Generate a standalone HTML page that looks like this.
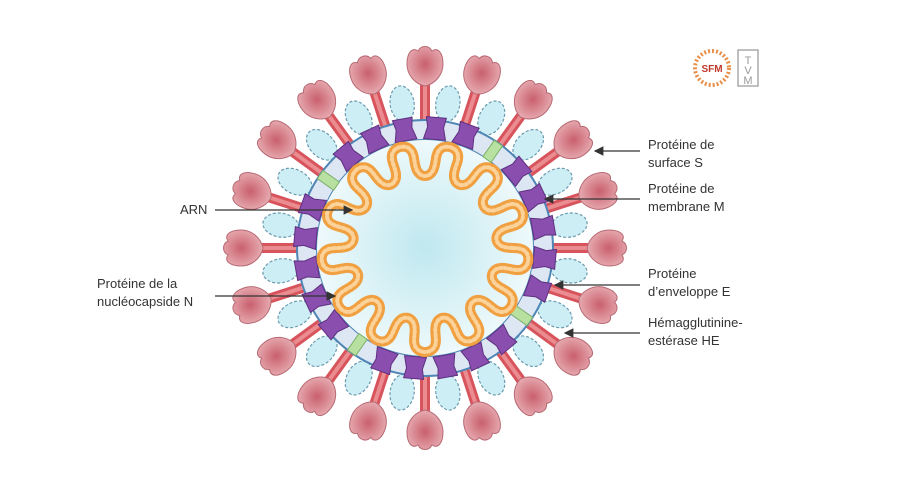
<!DOCTYPE html>
<html><head><meta charset="utf-8"><style>
body{margin:0;background:#fff;width:900px;height:480px;overflow:hidden;font-family:"Liberation Sans",sans-serif}
svg{position:absolute;left:0;top:0}
</style></head><body>
<svg id="s" width="900" height="480" viewBox="0 0 900 480">
<defs>
<radialGradient id="core"><stop offset="0" stop-color="#bfe8ef"/><stop offset="1" stop-color="#eef9fb"/></radialGradient>
<radialGradient id="head" cx="0.5" cy="0.45" r="0.6"><stop offset="0" stop-color="#c9606e"/><stop offset="1" stop-color="#eab3b8"/></radialGradient>
<marker id="ar" markerWidth="8" markerHeight="8" refX="7" refY="4" orient="auto"><path d="M0,0 L8,4 L0,8 z" fill="#333"/></marker>
</defs>
<g id="v"></g>
<g font-size="13" fill="#333">
<text x="648" y="149">Protéine de</text><text x="648" y="167">surface S</text>
<text x="648" y="193">Protéine de</text><text x="648" y="211">membrane M</text>
<text x="648" y="278">Protéine</text><text x="648" y="296">d’enveloppe E</text>
<text x="648" y="327">Hémagglutinine-</text><text x="648" y="345">estérase HE</text>
<text x="180" y="214">ARN</text>
<text x="97" y="288">Protéine de la</text><text x="97" y="306">nucléocapside N</text>
</g>
<g stroke="#333" stroke-width="1.2" marker-end="url(#ar)">
<line x1="640" y1="151" x2="595" y2="151"/>
<line x1="640" y1="199" x2="545" y2="199"/>
<line x1="640" y1="285" x2="555" y2="285"/>
<line x1="640" y1="333" x2="565" y2="333"/>
<line x1="215" y1="210" x2="352" y2="210"/>
<line x1="215" y1="296" x2="335" y2="296"/>
</g>
<g transform="translate(712,68)">
<circle r="17" fill="none" stroke="#e8904a" stroke-width="4" stroke-dasharray="2 2"/>
<circle r="13" fill="#fff"/>
<text x="0" y="4" font-size="10" font-weight="bold" text-anchor="middle" fill="#c0392b">SFM</text>
</g>
<rect x="738" y="50" width="20" height="36" fill="none" stroke="#aaa" stroke-width="1.5"/>
<text x="748" y="64" font-size="11" text-anchor="middle" fill="#999">T</text>
<text x="748" y="74" font-size="11" text-anchor="middle" fill="#999">V</text>
<text x="748" y="84" font-size="11" text-anchor="middle" fill="#999">M</text>
</svg>
<script>
const g=document.getElementById('v'),cx=425,cy=248;
let h='';
const N=20;
for(let i=0;i<N;i++){const a=(i+0.5)*360/N-90;
h+=`<g transform="translate(${cx},${cy}) rotate(${a+90})"><ellipse cx="0" cy="-146" rx="12" ry="18" fill="#cdeef5" stroke="#6a9aae" stroke-width="1.2" stroke-dasharray="3 2"/></g>`;}
for(let i=0;i<N;i++){const a=i*360/N-90;
h+=`<g transform="translate(${cx},${cy}) rotate(${a+90})">
<rect x="-5" y="-166" width="10" height="44" fill="#d8545c"/><rect x="-2" y="-166" width="4" height="44" fill="#eb8c90"/>
<path d="M0,-162 C-10,-164 -18,-173 -18,-184 C-18,-195 -13,-201 -7,-197 C-4,-203 4,-203 7,-197 C13,-201 18,-195 18,-184 C18,-173 10,-164 0,-162 Z" fill="url(#head)" stroke="#b86a74" stroke-width="1"/></g>`;}
h+=`<circle cx="${cx}" cy="${cy}" r="118" fill="none" stroke="#4f86b5" stroke-width="22"/>`;
h+=`<circle cx="${cx}" cy="${cy}" r="118" fill="none" stroke="#dde6f3" stroke-width="18"/>`;
h+=`<circle cx="${cx}" cy="${cy}" r="108" fill="url(#core)"/>`;
const M=24;
for(let i=0;i<M;i++){const a=i*360/M+5;const e=(i%6==2);
h+=`<g transform="translate(${cx},${cy}) rotate(${a})">`+(e?
`<rect x="-5" y="-128" width="10" height="20" fill="#b8e0a0" stroke="#7ab06a"/>`:
`<path d="M-10,-131 L10,-131 L8,-121 L11,-109 L-11,-109 L-8,-121 Z" fill="#8a4fae" stroke="#5e2f80" stroke-width="1"/>`)+`</g>`;}
let p='';for(let k=0;k<=1800;k++){const t=k/1800*2*Math.PI;const r=88+16*Math.sin(13*t);const tt=t-0.035*Math.sin(26*t);p+=(k?'L':'M')+(cx+r*Math.cos(tt)).toFixed(1)+','+(cy+r*Math.sin(tt)).toFixed(1);}
h+=`<path d="${p}Z" fill="none" stroke="#f0a040" stroke-width="10" stroke-linejoin="round"/><path d="${p}Z" fill="none" stroke="#fbd39a" stroke-width="4" stroke-dasharray="2 3" stroke-linecap="round"/>`;
g.innerHTML=h;
</script>
</body></html>
